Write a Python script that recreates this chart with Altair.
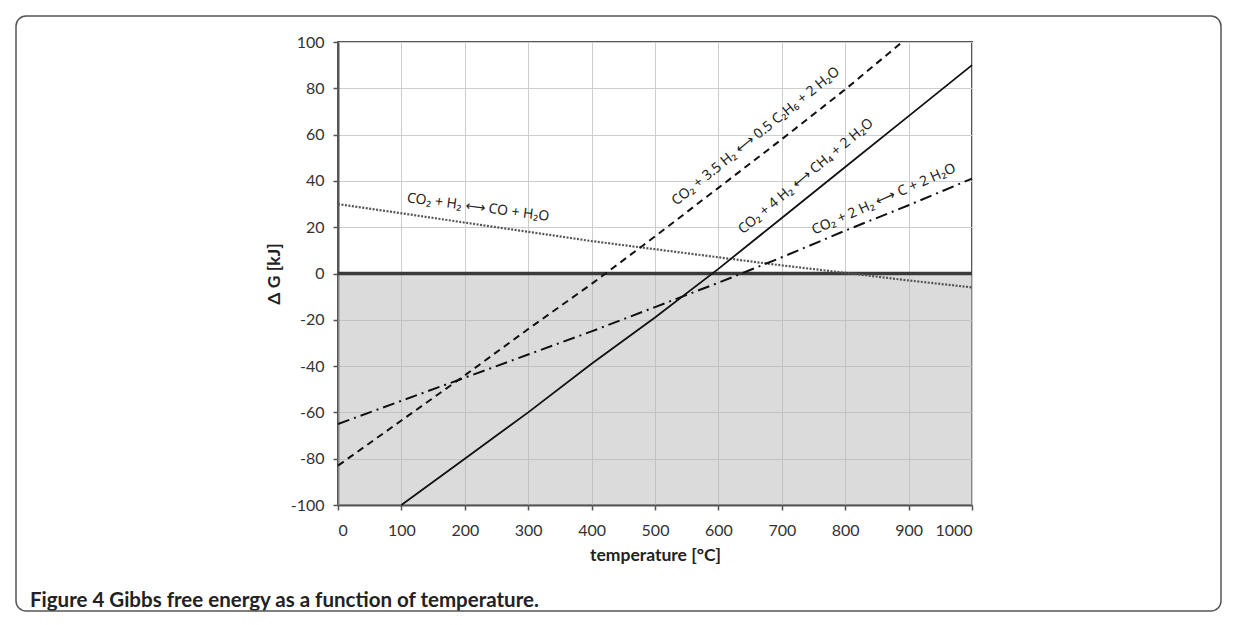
import altair as alt
import pandas as pd

# ---- data ----
temps = [0, 100, 200, 300, 400, 500, 600, 700, 800, 900, 1000]
dg_co = [30, 26, 22, 18, 14, 10.5, 7, 3.5, 0.3, -3, -6]            # CO2 + H2 <-> CO + H2O (dotted)
dg_ch4_t = [100, 200, 300, 400, 500, 600, 700, 800, 900, 1000]
dg_ch4 = [-100, -80, -60, -39, -19, 2, 24, 46, 68, 90]            # CO2 + 4H2 <-> CH4 + 2H2O (solid)
dg_c2h6_t = [0, 100, 200, 300, 400, 500, 600, 700, 800, 890]
dg_c2h6 = [-83, -63.5, -44, -24, -4.5, 16, 37, 58, 79.5, 100]     # ethane (dashed)
dg_c = [-65, -55, -45, -35, -25, -14.5, -4, 7, 18.5, 29.5, 41]     # CO2 + 2H2 <-> C + 2H2O (dash-dot)

label_text = ["CO₂ + H₂ ⟷ CO + H₂O",
              "CO₂ + 3.5 H₂ ⟷ 0.5 C₂H₆ + 2 H₂O",
              "CO₂ + 4 H₂ ⟷ CH₄ + 2 H₂O",
              "CO₂ + 2 H₂ ⟷ C + 2 H₂O"]
label_t = [221, 659, 738, 861]
label_v = [28.5, 59.2, 41.9, 32]
label_angle = [7.5, 321, 320, 336]

x_ticks = list(range(0, 1001, 100))
y_ticks = list(range(-100, 101, 20))
caption = "Figure 4 Gibbs free energy as a function of temperature."

FONT = "Lato"
ANN_FONT = "Noto Sans"

rows = []
for t, v in zip(temps, dg_co):
    rows.append({"series": "co", "t": t, "v": v})
for t, v in zip(dg_ch4_t, dg_ch4):
    rows.append({"series": "ch4", "t": t, "v": v})
for t, v in zip(dg_c2h6_t, dg_c2h6):
    rows.append({"series": "c2h6", "t": t, "v": v})
for t, v in zip(temps, dg_c):
    rows.append({"series": "c", "t": t, "v": v})
df = pd.DataFrame(rows)

labels = pd.DataFrame({"text": label_text, "t": label_t, "v": label_v, "angle": label_angle})

xs = alt.Scale(domain=[0, 1000], nice=False)
ys = alt.Scale(domain=[-100, 100], nice=False)

minus_fix = "datum.value < 0 ? '-' + abs(datum.value) : '' + datum.value"
x_axis = alt.Axis(title="temperature [°C]", values=x_ticks, labelExpr=minus_fix)
y_axis = alt.Axis(title="Δ G [kJ]", values=y_ticks, labelExpr=minus_fix)

X = alt.X("t:Q", scale=xs, axis=x_axis)
Y = alt.Y("v:Q", scale=ys, axis=y_axis)

base = alt.Chart(df)

shade = alt.Chart(pd.DataFrame({"a": [0]})).mark_rect(
    color="#b8b8b8", opacity=0.5).encode(
    x=alt.datum(0, scale=xs, type="quantitative", axis=x_axis),
    x2=alt.datum(1000),
    y=alt.datum(0, scale=ys, type="quantitative", axis=y_axis),
    y2=alt.datum(-100),
)

zero = alt.Chart(pd.DataFrame({"a": [0]})).mark_rule(
    color="#3a3a3a", strokeWidth=3.5).encode(y=alt.datum(0, scale=ys))


def line(series, dash, width=1.8, color="#111"):
    props = dict(color=color, strokeWidth=width)
    if dash:
        props["strokeDash"] = dash
    return base.transform_filter(alt.datum.series == series).mark_line(**props).encode(x=X, y=Y)


l_co = line("co", [2, 1.5], width=2.2, color="#555")
l_ch4 = line("ch4", None, width=1.8)
l_c2h6 = line("c2h6", [7, 5], width=2)
l_c = line("c", [12, 5, 2, 5], width=2)

ann = alt.Chart(labels).mark_text(font=ANN_FONT, fontSize=14, color="#222").encode(
    x=alt.X("t:Q", scale=xs), y=alt.Y("v:Q", scale=ys),
    text="text:N", angle=alt.Angle("angle:Q", scale=None))

cap = alt.Chart(pd.DataFrame({"c": [caption]})).mark_text(
    font=FONT, fontSize=20.5, fontWeight="bold", align="left", baseline="middle", color="#222"
).encode(x=alt.value(-308), y=alt.value(559), text="c:N")

border = alt.Chart(pd.DataFrame({"a": [0]})).mark_rect(
    filled=False, stroke="#555", strokeWidth=1.5, cornerRadius=10).encode(
    x=alt.value(-322), x2=alt.value(883), y=alt.value(-26), y2=alt.value(569))

chart = alt.layer(shade, zero, l_co, l_c2h6, l_c, l_ch4, ann, cap, border).properties(
    width=634, height=463,
    autosize=alt.AutoSizeParams(type="none"),
    padding={"left": 330, "top": 34, "right": 251, "bottom": 108},
    background="white",
).configure_view(stroke="#555", strokeWidth=2).configure_axis(
    grid=True, gridColor="#cdcdcd", gridWidth=1,
    domainColor="#555", domainWidth=2, tickColor="#555", tickSize=5, tickWidth=1.5,
    labelFont=FONT, labelFontSize=16, labelColor="#333",
    titleFont=FONT, titleFontSize=17.5, titleFontWeight="bold", titleColor="#222",
).configure_axisX(labelPadding=12, titlePadding=8).configure_axisY(labelPadding=9, titlePadding=7)

chart.save("out.html", embed_options={"renderer": "svg", "actions": False})
